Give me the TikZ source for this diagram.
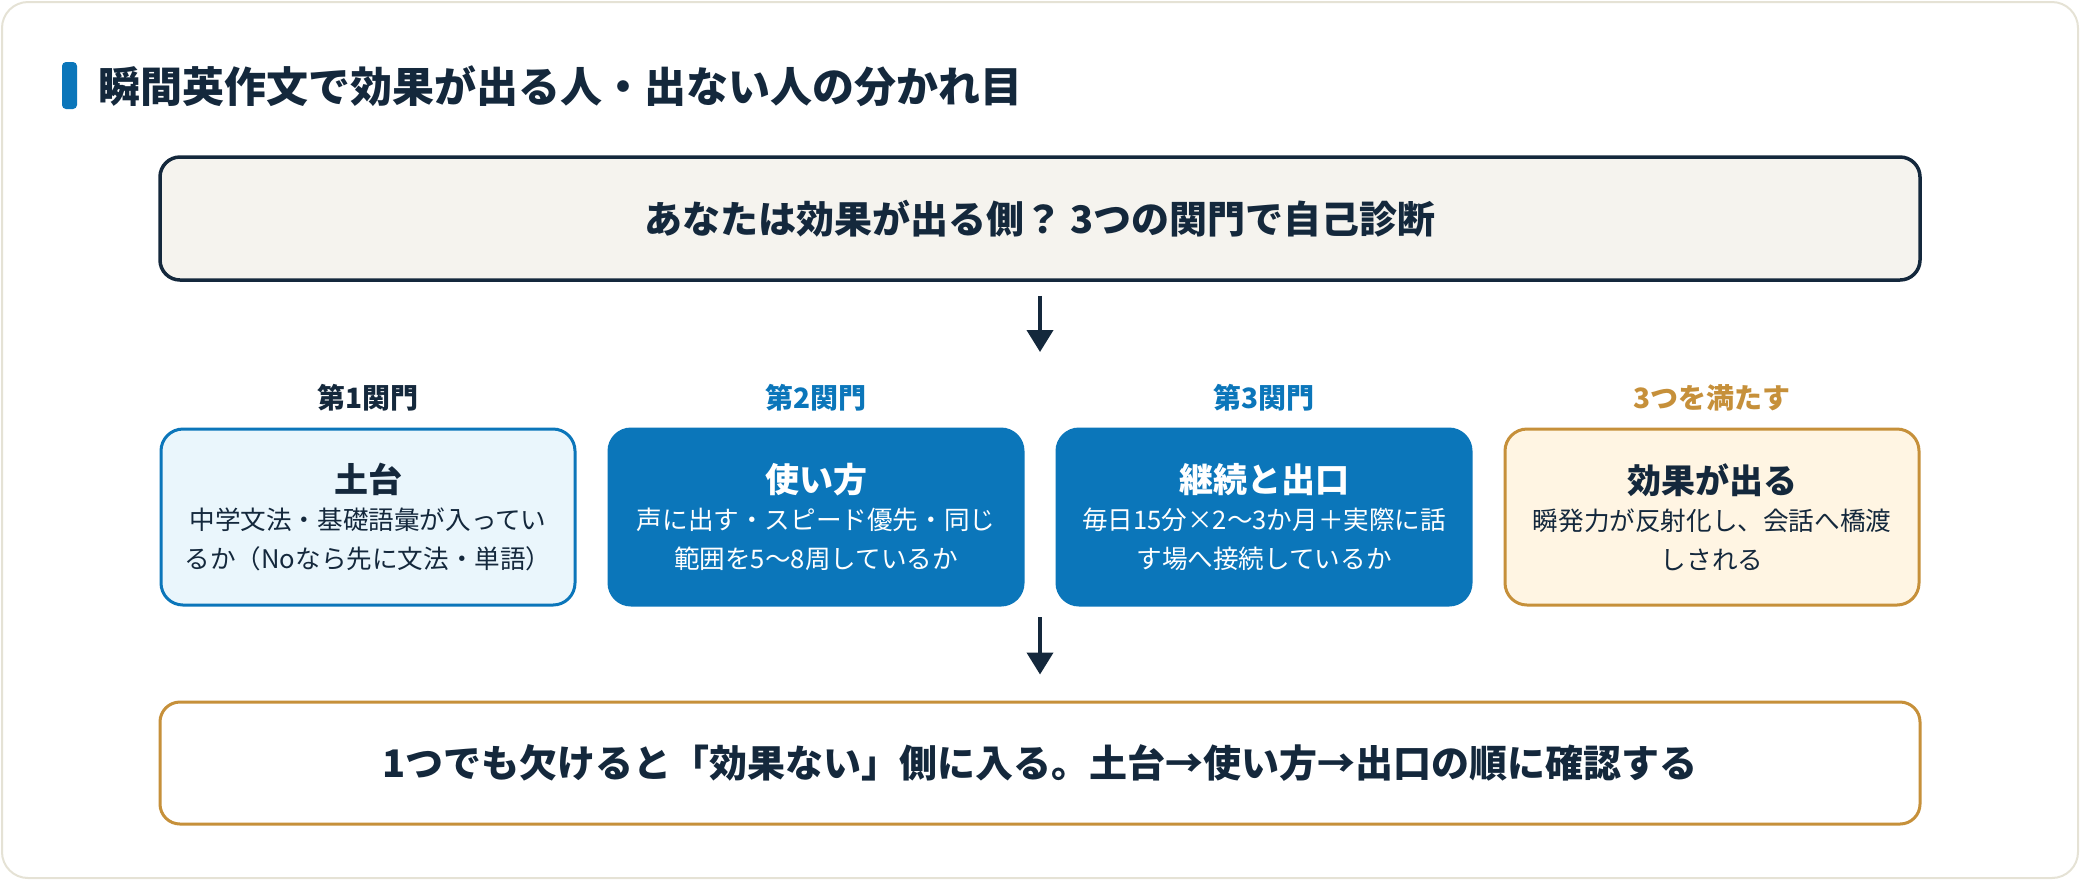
\documentclass[tikz,border=0pt]{standalone}
\usepackage{fontspec}
\setmainfont{Noto Sans CJK JP}
\usetikzlibrary{arrows.meta}
\definecolor{navy}{HTML}{14283C}
\definecolor{mblue}{HTML}{0B76BA}
\definecolor{lblue}{HTML}{EAF6FC}
\definecolor{gold}{HTML}{C6903A}
\definecolor{cream}{HTML}{FFF5E3}
\definecolor{topfill}{HTML}{F5F3EE}
\definecolor{cardline}{HTML}{E5E2D5}
\newcommand\gatetitle[1]{{\fontsize{17}{19.5}\selectfont\bfseries #1}}
\tikzset{
  card/.style={draw=cardline, fill=white, line width=1pt, rounded corners=13pt},
  widebox/.style={rounded corners=10pt, minimum width=880pt, minimum height=61.5pt, inner sep=0pt, font=\fontsize{19}{23}\selectfont\bfseries, text=navy},
  gatebox/.style={rounded corners=11pt, minimum width=207pt, minimum height=88pt, inner sep=0pt, align=center, line width=1.5pt, font=\fontsize{12.8}{19.5}\selectfont},
  lightgate/.style={gatebox, draw=mblue, fill=lblue, text=navy},
  solidgate/.style={gatebox, draw=mblue, fill=mblue, text=white},
  goalgate/.style={gatebox, draw=gold, fill=cream, text=navy},
  gatelabel/.style={font=\fontsize{14}{16}\selectfont\bfseries, inner sep=0pt},
  flowarrow/.style={draw=navy, line width=2pt, -{Triangle[length=11pt,width=13pt]}},
}
\begin{document}
\begin{tikzpicture}[x=0.5pt,y=-0.5pt]
\useasboundingbox (0,0) rectangle (2080,880);
\draw[card] (2,2) rectangle (2078,878);
% title
\fill[mblue, rounded corners=2pt] (62,62) rectangle (77,109);
\node[anchor=west, inner sep=0pt, text=navy, font=\fontsize{21}{25}\selectfont\bfseries] (title) at (98,86) {瞬間英作文で効果が出る人・出ない人の分かれ目};
% top box
\node[widebox, draw=navy, fill=topfill, line width=1.75pt] (top) at (1040,218.5) {あなたは効果が出る側？ 3つの関門で自己診断};
\coordinate (a1end) at (1040,352);
\draw[flowarrow, shorten <=7pt] (top.south) -- (a1end);
% labels
\node[gatelabel, text=navy] (l1) at (368,398) {第1関門};
\node[gatelabel, text=mblue] (l2) at (816,398) {第2関門};
\node[gatelabel, text=mblue] (l3) at (1264,398) {第3関門};
\node[gatelabel, text=gold] (l4) at (1712,398) {3つを満たす};
% gate boxes
\node[lightgate] (g1) at (368,517) {\gatetitle{土台}\\[-1pt]中学文法・基礎語彙が入ってい\\るか（Noなら先に文法・単語）};
\node[solidgate] (g2) at (816,517) {\gatetitle{使い方}\\[-1pt]声に出す・スピード優先・同じ\\範囲を5〜8周しているか};
\node[solidgate] (g3) at (1264,517) {\gatetitle{継続と出口}\\[-1pt]毎日15分×2〜3か月＋実際に話\\す場へ接続しているか};
\node[goalgate] (g4) at (1712,517) {\gatetitle{効果が出る}\\[-1pt]瞬発力が反射化し、会話へ橋渡\\しされる};
% bottom
\coordinate (a2start) at (1040,617);
\node[widebox, draw=gold, fill=white, line width=1.5pt, minimum height=61pt] (bottom) at (1040,763) {1つでも欠けると「効果ない」側に入る。土台→使い方→出口の順に確認する};
\draw[flowarrow, shorten >=13pt] (a2start) -- (bottom.north);
\end{tikzpicture}
\end{document}
